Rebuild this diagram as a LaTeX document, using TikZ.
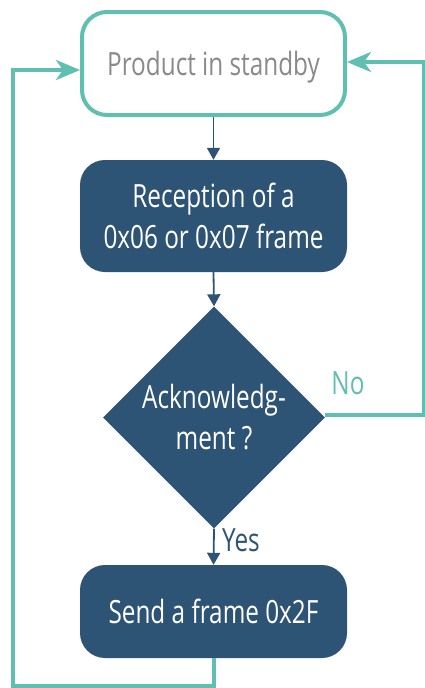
\documentclass[tikz,border=0pt]{standalone}
\usepackage{fontspec}
\setmainfont[FakeStretch=0.76]{Open Sans}
\usetikzlibrary{shapes.geometric,arrows.meta}
\definecolor{teal1}{HTML}{5FBFB0}
\definecolor{navy}{HTML}{2E5475}
\definecolor{txtgray}{HTML}{8A8A8A}
\begin{document}
\begin{tikzpicture}[x=1pt,y=-1pt,
  lbl/.style={font=\fontsize{32}{41}\selectfont, inner sep=0},
  box/.style={lbl, rounded corners=25pt, minimum width=267pt, align=center},
  darkbox/.style={box, fill=navy, text=white},
  tealline/.style={draw=teal1, line width=4pt, -{Stealth[length=24pt,width=20pt,inset=7pt]}},
  darkarrow/.style={draw=navy, line width=1.8pt, -{Triangle[length=12pt,width=13pt]}},
]
\useasboundingbox (0,0) rectangle (425,688);
\node[box, draw=teal1, line width=4pt, fill=white, text=txtgray, minimum width=263pt, minimum height=103pt, text depth=0pt] (standby) at (213.5,63.5) {Product in standby};
\node[darkbox, minimum height=112pt] (recv) at (213.5,216) {Reception of a\\0x06 or 0x07 frame};
\node[diamond, aspect=1, fill=navy, inner sep=0, minimum width=222pt, minimum height=222pt] (dia) at (214,417.5) {};
\node[lbl, text=white, align=center] (diatext) at (dia.center) {Acknowledg-\\ment ?};
\node[darkbox, minimum height=93pt] (send) at (213.5,611.5) {Send a frame 0x2F};
\node[lbl, text=teal1] (no) at (348,383) {No};
\node[lbl, text=navy] (yes) at (241,540) {Yes};
\coordinate (tr) at (424,62);
\coordinate (br) at (424,415);
\coordinate (bl) at (12.5,685.5);
\coordinate (tl) at (12.5,70);
\draw[darkarrow] (standby.south) -- (recv.north);
\draw[darkarrow] (recv.south) -- (dia.north);
\draw[darkarrow] (dia.south) -- (send.north);
\draw[tealline] (dia.east |- br) -- (br) -- (tr) -- (standby.east |- tr);
\draw[tealline] (send.south) -- (send.south |- bl) -- (bl) -- (tl) -- (standby.west |- tl);
\end{tikzpicture}
\end{document}
